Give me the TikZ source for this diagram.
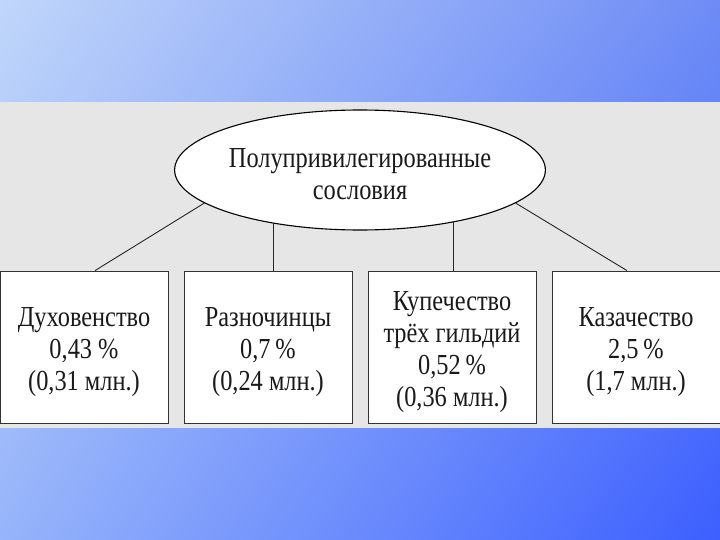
\documentclass[tikz,border=0pt]{standalone}
\usepackage{fontspec}
\setmainfont[FakeStretch=0.84]{Liberation Serif}
\usetikzlibrary{shapes.geometric,shadings}
\definecolor{bandgray}{RGB}{230,230,230}
\definecolor{ink}{RGB}{25,25,25}
\definecolor{bgul}{RGB}{192,214,250}
\definecolor{bgur}{RGB}{110,140,245}
\definecolor{bgll}{RGB}{150,180,250}
\definecolor{bglr}{RGB}{60,95,255}
\newcommand{\dropline}{\rule{0pt}{29pt}}
\tikzset{
  box/.style={draw=black!80, line width=0.8pt, fill=white, minimum width=168, minimum height=152,
    inner sep=0pt, align=center, text=ink, font=\fontsize{29}{32}\selectfont},
  link/.style={draw=black!85, line width=0.9pt}
}
\begin{document}
\begin{tikzpicture}[x=1pt,y=-1pt]
\useasboundingbox (0,0) rectangle (720,540);
\shade[upper left=bgul, upper right=bgur, lower left=bgll, lower right=bglr]
  (0,0) rectangle (720,540);
\fill[bandgray] (0,102) rectangle (720,428);
\node[ellipse, draw=black, line width=1.1pt, fill=white, minimum width=362, minimum height=120,
  inner sep=0pt, align=center, text=ink, font=\fontsize{29}{32}\selectfont] (e) at (360,170)
  {\rule{0pt}{28pt}Полупривилегированные\\сословия};
\node[box] (b1) at (84,347) {\dropline Духовенство\\0,43 \%\\(0,31 млн.)};
\node[box] (b2) at (268,347) {\dropline Разночинцы\\0,7\,\%\\(0,24 млн.)};
\node[box] (b3) at (452,347) {\dropline Купечество\\трёх гильдий\\0,52\,\%\\(0,36 млн.)};
\node[box] (b4) at (636,347) {\dropline Казачество\\2,5\,\%\\(1,7 млн.)};
\draw[link] (e.192) -- ([xshift=11pt]b1.north);
\draw[link] ([xshift=5pt]b2.north) -- ([xshift=5pt]b2.north |- e.211);
\draw[link] ([xshift=1pt]b3.north) -- ([xshift=1pt]b3.north |- e.331);
\draw[link] (e.348) -- ([xshift=-9pt]b4.north);
\end{tikzpicture}
\end{document}
